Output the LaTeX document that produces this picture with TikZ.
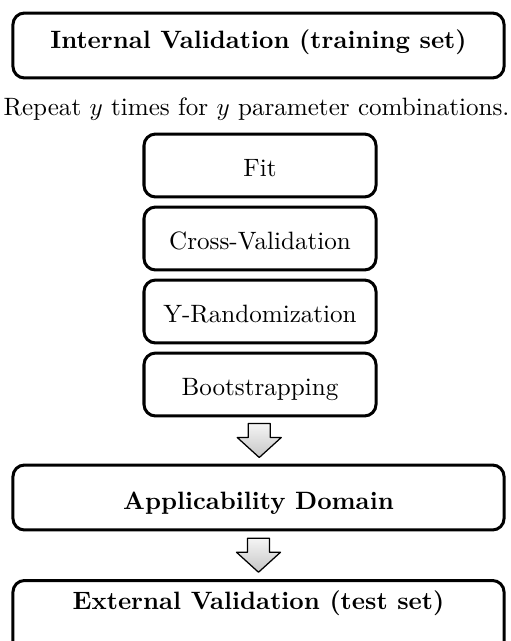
\documentclass[tikz,border=0pt]{standalone}
\usetikzlibrary{positioning}
\begin{document}
\begin{tikzpicture}[x=0.3987pt,y=-0.3987pt,
  boxline/.style={draw=black,line width=1.2pt,rounded corners=4.6pt},
  bigbox/.style={boxline,minimum width=195.8pt,minimum height=25.9pt,inner sep=0pt,font=\bfseries},
  smallbox/.style={boxline,minimum width=92.5pt,minimum height=25.1pt,inner sep=0pt,text height=9.8pt,text depth=1pt},
  pics/blockarrow/.style={code={
    \shade[top color=gray!8,bottom color=gray!45,draw=black,line width=0.5pt,line join=round]
      (-11,-17) -- (11,-17) -- (11,-3) -- (22,-3) -- (0,17) -- (-22,-3) -- (-11,-3) -- cycle;}}
]
\useasboundingbox (0,0) rectangle (511,641);
\node[bigbox,text height=7pt,text depth=4.6pt] (internal) at (258.5,45.5) {Internal Validation (training set)};
\node[anchor=base,inner sep=0pt] (repeat) at (256.5,115) {Repeat $y$ times for $y$ parameter combinations.};
\node[smallbox] (fit) at (260,165.5) {Fit};
\node[smallbox] (cv) at (260,238.5) {Cross-Validation};
\node[smallbox] (yr) at (260,311.5) {Y-Randomization};
\node[smallbox] (boot) at (260,384.5) {Bootstrapping};
\node[bigbox,text height=10.5pt,text depth=0.9pt] (ad) at (258.5,497.5) {Applicability Domain};
\node[bigbox,anchor=north,minimum height=0pt,inner ysep=0pt,text height=11.6pt,text depth=20pt] (ext) at (258.5,579) {External Validation (test set)};
\path (boot.south) -- (ad.north) coordinate[pos=0.5] (m1);
\path (ad.south) -- (ext.north) coordinate[pos=0.5] (m2);
\pic at (m1) {blockarrow};
\pic at (m2) {blockarrow};
\end{tikzpicture}
\end{document}
